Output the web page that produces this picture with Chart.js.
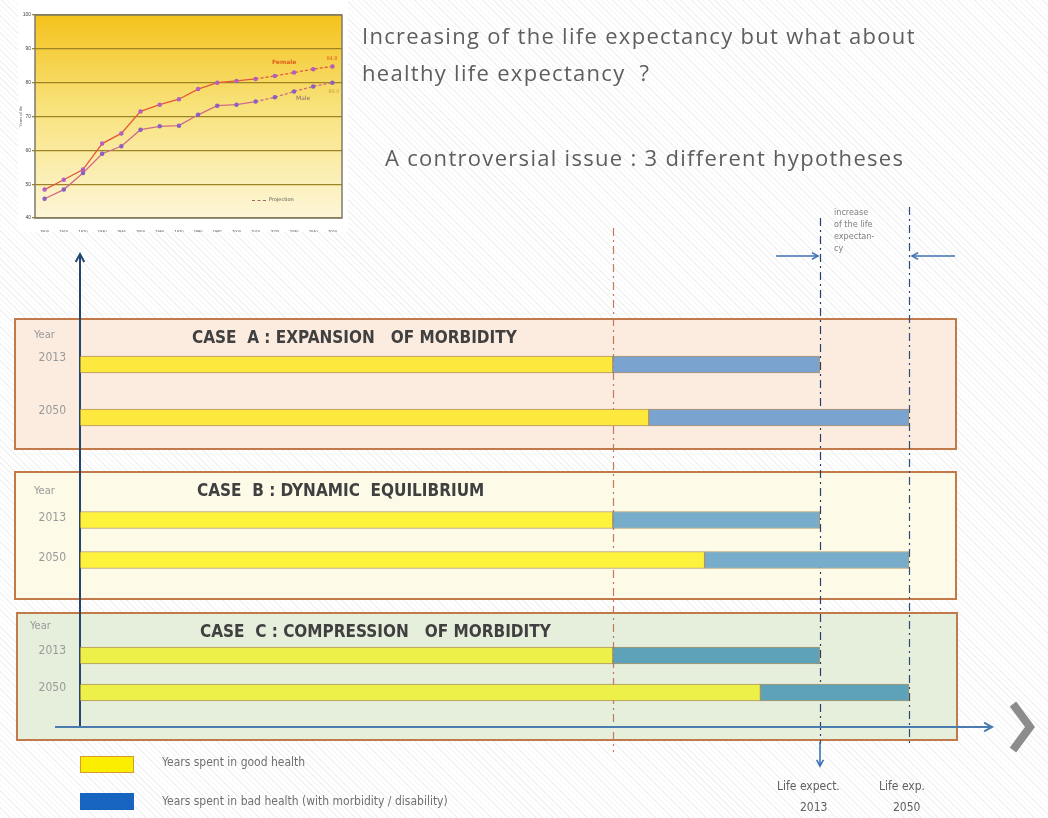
<!DOCTYPE html>
<html>
<head>
<meta charset="utf-8">
<script src="https://cdn.jsdelivr.net/npm/chart.js@4.4.1/dist/chart.umd.min.js"></script>
<style>
  body { margin: 0; }
  #page {
    position: relative; width: 1048px; height: 818px; overflow: hidden;
    background: repeating-linear-gradient(45deg, #ffffff 0px, #ffffff 3px, #f2f2f2 3px, #f2f2f2 4px);
    font-family: 'Open Sans', sans-serif;
  }
  .abs { position: absolute; white-space: pre; }
  .box { position: absolute; box-sizing: border-box; border: 2px solid #c27a4a; }
  canvas { position: absolute; }
  .title { font-size: 22px; font-weight: 400; letter-spacing: 1.3px; color: #5e5e5e; line-height: 37px; }
  .case { font-family: 'Liberation Sans Narrow', 'DejaVu Sans Condensed', sans-serif; font-weight: bold; font-size: 17px; color: #404040; }
  .small { font-family: 'DejaVu Sans Condensed', sans-serif; font-size: 11px; color: #9a9a9a; }
  .note { font-family: 'DejaVu Sans Condensed', sans-serif; font-size: 12px; color: #707070; }
  .swatch { position: absolute; width: 54px; height: 17px; box-sizing: border-box; }
</style>
</head>
<body>
<div id="page">
  <!-- case boxes -->
  <div class="box" style="left:14px; top:318px; width:943px; height:132px; background:#fcebdf;"></div>
  <div class="box" style="left:14px; top:471px; width:943px; height:129px; background:#fdfbe8;"></div>
  <div class="box" style="left:16px; top:612px; width:942px; height:129px; background:#e6efdb;"></div>

  <canvas id="overlay" width="1048" height="818" style="left:0; top:0;"></canvas>

  <!-- each canvas is 12px taller than its bar band: the y labels reserve 6px above and below -->
  <canvas id="caseA" width="1048" height="118" style="left:0; top:332px;"></canvas>
  <canvas id="caseB" width="1048" height="92" style="left:0; top:494px;"></canvas>
  <canvas id="caseC" width="1048" height="86" style="left:0; top:631px;"></canvas>

  <div class="abs" style="left:18px; top:0; width:330px; height:232px; background:#ffffff;"></div>
  <canvas id="inset" width="330" height="232" style="left:18px; top:0;"></canvas>
  <div class="abs" style="left:272px; top:58px; font:bold 6px 'DejaVu Sans', sans-serif; color:#e0601c;">Female</div>
  <div class="abs" style="left:296px; top:94px; font:6px 'DejaVu Sans', sans-serif; color:#8a6a6a;">Male</div>
  <div class="abs" style="left:252px; top:200px; width:14px; border-top:1px dashed #a06a6a;"></div>
  <div class="abs" style="left:269px; top:196px; font:5px 'DejaVu Sans', sans-serif; color:#555;">Projection</div>

  <div class="abs title" style="left:362px; top:17px;">Increasing of the life expectancy but what about
healthy life expectancy  ?</div>
  <div class="abs title" style="left:385px; top:139px;">A controversial issue : 3 different hypotheses</div>

  <div class="abs" style="left:834px; top:206px; font:9px 'DejaVu Sans Condensed', sans-serif; color:#808080; line-height:12px;">increase
of the life
expectan-
cy</div>

  <div class="abs case" style="left:192px; top:327px;">CASE  A : EXPANSION   OF MORBIDITY</div>
  <div class="abs case" style="left:197px; top:480px;">CASE  B : DYNAMIC  EQUILIBRIUM</div>
  <div class="abs case" style="left:200px; top:621px;">CASE  C : COMPRESSION   OF MORBIDITY</div>

  <div class="abs small" style="left:34px; top:328px;">Year</div>
  <div class="abs small" style="left:34px; top:484px;">Year</div>
  <div class="abs small" style="left:30px; top:619px;">Year</div>

  <div class="swatch" style="left:80px; top:756px; background:#fbee00; border:1px solid #d89a30;"></div>
  <div class="abs note" style="left:162px; top:755px;">Years spent in good health</div>
  <div class="swatch" style="left:80px; top:793px; background:#1664c0;"></div>
  <div class="abs note" style="left:162px; top:794px;">Years spent in bad health (with morbidity / disability)</div>

  <div class="abs note" style="left:777px; top:779px; color:#606060;">Life expect.</div>
  <div class="abs note" style="left:800px; top:800px; color:#606060;">2013</div>
  <div class="abs note" style="left:879px; top:779px; color:#606060;">Life exp.</div>
  <div class="abs note" style="left:893px; top:800px; color:#606060;">2050</div>
</div>

<script>
// life expectancy at birth, France (inset)
const insetYears = ['1900', '1910', '1920', '1930', '1946', '1950', '1960', '1970',
  '1980', '1985', '2000', '2010', '2020', '2030', '2040', '2050'];
const femaleLife = [48.4, 51.3, 54.3, 62.0, 65.0, 71.5, 73.5, 75.1, 78.1, 80.0, 80.5, 81.1, 82.0, 83.0, 84.0, 84.8];
const maleLife = [45.7, 48.4, 53.3, 59.0, 61.2, 66.1, 67.1, 67.3, 70.5, 73.2, 73.5, 74.4, 75.7, 77.4, 78.9, 80.0];
const projectionFrom = 11; // index of 2010

// hypotheses: years of life, split good / bad health
const caseYears = ['2013', '2050'];
const lifeExpectancy = [82.2, 92.1];
const healthyYearsA = [59.2, 63.2];
const healthyYearsB = [59.2, 69.4];
const healthyYearsC = [59.2, 75.6];

function makeCaseChart(id, healthy, yellow, blue, labelOffset) {
  const badYears = lifeExpectancy.map((v, i) => +(v - healthy[i]).toFixed(1));
  return new Chart(document.getElementById(id), {
    type: 'bar',
    data: {
      labels: caseYears,
      datasets: [
        { label: 'Years spent in good health', data: healthy, backgroundColor: yellow },
        { label: 'Years spent in bad health', data: badYears, backgroundColor: blue }
      ]
    },
    options: {
      indexAxis: 'y',
      responsive: false,
      animation: false,
      layout: { padding: { left: 0, right: 68, top: 0, bottom: 0 } },
      datasets: {
        bar: { barThickness: 17, borderWidth: 1, borderColor: 'rgba(150,120,70,0.75)', borderSkipped: false }
      },
      plugins: { legend: { display: false }, tooltip: { enabled: false } },
      scales: {
        x: { display: false, stacked: true, min: 0, max: 100 },
        y: {
          stacked: true,
          // invisible tick marks push the labels 14px away from the bars
          grid: { display: true, drawOnChartArea: false, color: 'rgba(0,0,0,0)', tickLength: 14 },
          border: { display: false },
          ticks: {
            color: '#9a9a9a', padding: 0, labelOffset: labelOffset,
            font: { family: "'DejaVu Sans Condensed', sans-serif", size: 12, lineHeight: 1 }
          },
          afterFit: (scale) => { scale.width = 80; }
        }
      }
    }
  });
}

const chartA = makeCaseChart('caseA', healthyYearsA, '#fde83e', '#7aa3cf', -7);
const chartB = makeCaseChart('caseB', healthyYearsB, '#fff23c', '#77adcb', -2);
const chartC = makeCaseChart('caseC', healthyYearsC, '#eef04a', '#5ea2ba', -5);

// axes, reference lines and arrows across the three cases
function openArrow(ctx, x1, y1, x2, y2, color, w, head) {
  ctx.strokeStyle = color; ctx.lineWidth = w; ctx.setLineDash([]);
  ctx.beginPath(); ctx.moveTo(x1, y1); ctx.lineTo(x2, y2); ctx.stroke();
  const a = Math.atan2(y2 - y1, x2 - x1);
  ctx.beginPath();
  ctx.moveTo(x2 - head * Math.cos(a - 0.5), y2 - head * Math.sin(a - 0.5));
  ctx.lineTo(x2, y2);
  ctx.lineTo(x2 - head * Math.cos(a + 0.5), y2 - head * Math.sin(a + 0.5));
  ctx.stroke();
}

function dashedLine(ctx, x, y1, y2, color) {
  ctx.strokeStyle = color; ctx.lineWidth = 1.2; ctx.setLineDash([8, 4, 2, 4]);
  ctx.beginPath(); ctx.moveTo(x + 0.5, y1); ctx.lineTo(x + 0.5, y2); ctx.stroke();
  ctx.setLineDash([]);
}

const ov = document.getElementById('overlay').getContext('2d');
const xs = chartA.scales.x;
const x0 = Math.round(xs.getPixelForValue(0));
const xHealthy = Math.round(xs.getPixelForValue(healthyYearsA[0]));
const xLife13 = Math.round(xs.getPixelForValue(lifeExpectancy[0]));
const xLife50 = Math.round(xs.getPixelForValue(lifeExpectancy[1]));

dashedLine(ov, xHealthy, 228, 752, '#c07a5c');
dashedLine(ov, xLife13, 218, 744, '#26406a');
dashedLine(ov, xLife50, 207, 744, '#2c4c7c');

openArrow(ov, x0, 727, x0, 254, '#23466f', 2, 9);
openArrow(ov, 55, 727, 992, 727, '#4a7cb0', 2, 9);
openArrow(ov, 776, 256, xLife13 - 2, 256, '#3d72b5', 1.6, 7);
openArrow(ov, 955, 256, xLife50 + 3, 256, '#3d72b5', 1.6, 7);
openArrow(ov, xLife13, 742, xLife13, 766, '#3d72b5', 1.6, 7);

// big grey chevron on the right
ov.strokeStyle = '#8c8c8c'; ov.lineWidth = 8; ov.lineCap = 'butt';
ov.beginPath(); ov.moveTo(1013, 704); ov.lineTo(1030, 727); ov.lineTo(1013, 750); ov.stroke();

// inset: life expectancy curves
const insetBackground = {
  id: 'insetBackground',
  beforeDraw(chart) {
    const { ctx, chartArea: a } = chart;
    const g = ctx.createLinearGradient(0, a.top, 0, a.bottom);
    g.addColorStop(0, '#f4c21c');
    g.addColorStop(0.45, '#f8e27a');
    g.addColorStop(1, '#fdf6d8');
    ctx.save();
    ctx.fillStyle = g;
    ctx.fillRect(a.left, a.top, a.right - a.left, a.bottom - a.top);
    ctx.restore();
  },
  afterDraw(chart) {
    const { ctx, chartArea: a, scales } = chart;
    ctx.save();
    ctx.strokeStyle = '#7d7a6a'; ctx.lineWidth = 1.5;
    ctx.strokeRect(a.left, a.top, a.right - a.left, a.bottom - a.top);
    // end values
    const last = insetYears.length - 1;
    const xe = scales.x.getPixelForValue(last);
    ctx.font = "5px 'DejaVu Sans', sans-serif";
    ctx.fillStyle = '#e0601c';
    ctx.fillText(femaleLife[last].toFixed(1), xe - 6, scales.y.getPixelForValue(femaleLife[last]) - 6);
    ctx.fillStyle = '#c8a040';
    ctx.fillText(maleLife[last].toFixed(1), xe - 4, scales.y.getPixelForValue(maleLife[last]) + 10);
    ctx.restore();
  }
};

const projDash = (c) => (c.p0DataIndex >= projectionFrom ? [3, 2] : undefined);

new Chart(document.getElementById('inset'), {
  type: 'line',
  data: {
    labels: insetYears,
    datasets: [
      {
        label: 'Female', data: femaleLife, borderColor: '#e8553a', borderWidth: 1.3,
        pointRadius: 1.6, pointBackgroundColor: '#b060c0', pointBorderColor: '#b060c0',
        segment: { borderDash: projDash }
      },
      {
        label: 'Male', data: maleLife, borderColor: '#d06a8a', borderWidth: 1.3,
        pointRadius: 1.6, pointBackgroundColor: '#8a60c0', pointBorderColor: '#8a60c0',
        segment: { borderDash: projDash }
      }
    ]
  },
  options: {
    responsive: false,
    animation: false,
    layout: { padding: { top: 15, right: 6, left: 0, bottom: 0 } },
    plugins: { legend: { display: false }, tooltip: { enabled: false } },
    scales: {
      x: {
        offset: true,
        grid: { display: false },
        border: { display: false },
        ticks: { color: '#444', autoSkip: false, maxRotation: 0, padding: 3, font: { size: 4 } },
        afterFit: (scale) => { scale.height = 14; }
      },
      y: {
        min: 40, max: 100,
        grid: { color: '#9c8424', lineWidth: 1.3, tickLength: 3 },
        border: { display: false },
        title: { display: true, text: 'Years of life', color: '#555', font: { size: 4 }, padding: 0 },
        ticks: { stepSize: 10, color: '#444', padding: 1, font: { size: 5 } },
        afterFit: (scale) => { scale.width = 17; }
      }
    }
  },
  plugins: [insetBackground]
});
</script>
</body>
</html>
